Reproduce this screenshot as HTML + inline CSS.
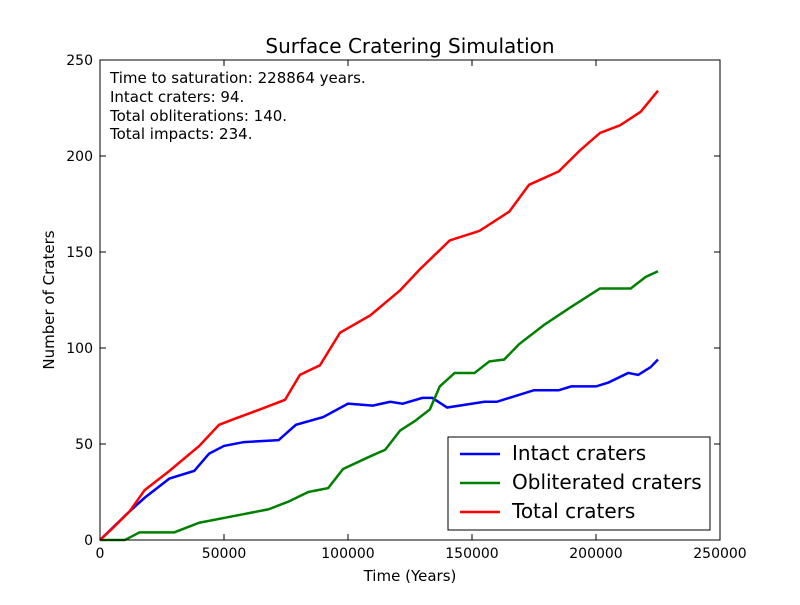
<!DOCTYPE html>
<html><head><meta charset="utf-8"><style>
body{margin:0;background:#fff;}
svg text{font-family:"DejaVu Sans","Liberation Sans",sans-serif;fill:#000;}
</style></head><body>
<svg id="chart" width="800" height="600" viewBox="0 0 800 600" xmlns="http://www.w3.org/2000/svg">
<rect width="800" height="600" fill="#fff"/>
<text x="410" y="53" font-size="20" text-anchor="middle">Surface Cratering Simulation</text>
<g id="plot"></g>
<rect x="100" y="60" width="620" height="480" fill="none" stroke="#000" stroke-width="1"/>
<g id="ticks"></g>
<text x="410" y="581" font-size="15" text-anchor="middle">Time (Years)</text>
<text transform="translate(54,300) rotate(-90)" font-size="15" text-anchor="middle">Number of Craters</text>
<g font-size="15">
<text x="110" y="83">Time to saturation: 228864 years.</text>
<text x="110" y="102">Intact craters: 94.</text>
<text x="110" y="121">Total obliterations: 140.</text>
<text x="110" y="139">Total impacts: 234.</text>
</g>
<g>
<rect x="448" y="437" width="262" height="93" fill="#fff" stroke="#000"/>
<g><line x1="460" y1="454" x2="500" y2="454" stroke="#0000ff" stroke-width="2.5"/><text x="512" y="460" font-size="20">Intact craters</text></g>
<g><line x1="460" y1="483" x2="500" y2="483" stroke="#008000" stroke-width="2.5"/><text x="512" y="489" font-size="20">Obliterated craters</text></g>
<g><line x1="460" y1="512" x2="500" y2="512" stroke="#ff0000" stroke-width="2.5"/><text x="512" y="518" font-size="20">Total craters</text></g>
</g>
</svg>
<script>
const totalT=[0,5000,12000,18000,28000,40000,48000,54000,64500,74600,80600,88700,96800,109000,121000,129000,141000,153000,165000,173000,185000,193600,201600,209700,218000,225000];
const totalV=[0,6,15,26,36,49,60,63,68,73,86,91,108,117,130,141,156,161,171,185,192,203,212,216,223,234];
const oblT=[0,10000,16000,30000,40000,56000,68000,76000,84000,92000,98000,108000,115000,121000,127000,133000,137000,143000,151000,157000,163000,169000,179000,189500,201600,214000,220000,225000];
const oblV=[0,0,4,4,9,13,16,20,25,27,37,43,47,57,62,68,80,87,87,93,94,102,112,121,131,131,137,140];
const intT=[0,12000,18000,28000,38000,44000,50000,58000,72000,79000,90000,100000,110000,117000,122000,130000,134000,140000,155000,160000,170000,175000,185000,190000,200000,205000,213000,217000,222000,225000];
const intV=[0,15,22,32,36,45,49,51,52,60,64,71,70,72,71,74,74,69,72,72,76,78,78,80,80,82,87,86,90,94];
const xTicks=[0,50000,100000,150000,200000,250000];
const yTicks=[0,50,100,150,200,250];
const NS="http://www.w3.org/2000/svg";
function xs(t){return 100+t/250000*620;}
function ys(v){return 540-v/250*480;}
const plot=document.getElementById('plot');
function line(T,V,color,name){
  const p=document.createElementNS(NS,'polyline');
  p.setAttribute('points',T.map((t,i)=>xs(t)+','+ys(V[i])).join(' '));
  p.setAttribute('fill','none');p.setAttribute('stroke',color);p.setAttribute('stroke-width','2.5');
  
  
  plot.appendChild(p);
}
line(intT,intV,'#0000ff','intact-craters-line');
line(oblT,oblV,'#008000','obliterated-craters-line');
line(totalT,totalV,'#ff0000','total-craters-line');
const tg=document.getElementById('ticks');
xTicks.forEach(t=>{
  const x=xs(t);
  const g=document.createElementNS(NS,'g');
  
  
  g.innerHTML=`<line x1="${x}" y1="540" x2="${x}" y2="534" stroke="#000"/><line x1="${x}" y1="60" x2="${x}" y2="66" stroke="#000"/><text x="${x}" y="558" font-size="14" text-anchor="middle">${t}</text>`;
  tg.appendChild(g);
});
yTicks.forEach(v=>{
  const y=ys(v);
  const g=document.createElementNS(NS,'g');
  
  
  g.innerHTML=`<line x1="100" y1="${y}" x2="106" y2="${y}" stroke="#000"/><line x1="720" y1="${y}" x2="714" y2="${y}" stroke="#000"/><text x="93" y="${y+5}" font-size="14" text-anchor="end">${v}</text>`;
  tg.appendChild(g);
});
</script>
</body></html>
